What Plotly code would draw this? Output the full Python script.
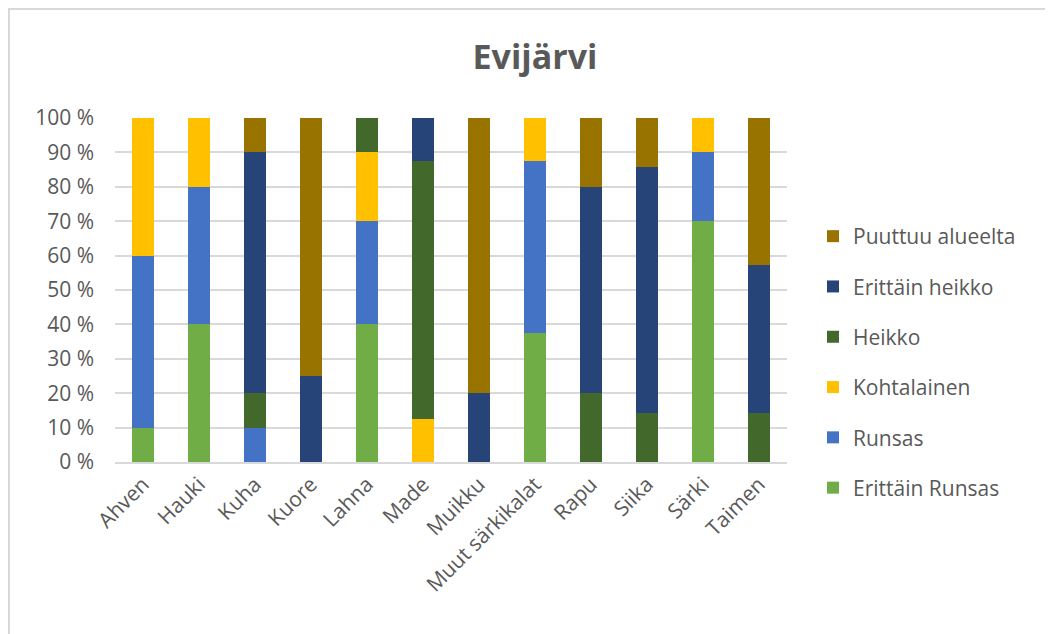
import plotly.graph_objects as go

categories = ["Ahven", "Hauki", "Kuha", "Kuore", "Lahna", "Made", "Muikku",
              "Muut särkikalat", "Rapu", "Siika", "Särki", "Taimen"]

erittain_runsas = [10, 40, 0, 0, 40, 0, 0, 37.5, 0, 0, 70, 0]
runsas = [50, 40, 10, 0, 30, 0, 0, 50, 0, 0, 20, 0]
kohtalainen = [40, 20, 0, 0, 20, 12.5, 0, 12.5, 0, 0, 10, 0]
heikko = [0, 0, 10, 0, 10, 75, 0, 0, 20, 14.3, 0, 14.3]
erittain_heikko = [0, 0, 70, 25, 0, 12.5, 20, 0, 60, 71.4, 0, 42.85]
puuttuu = [0, 0, 10, 75, 0, 0, 80, 0, 20, 14.3, 0, 42.85]

series = [
    ("Erittäin Runsas", erittain_runsas, "#70AD47"),
    ("Runsas", runsas, "#4472C4"),
    ("Kohtalainen", kohtalainen, "#FFC000"),
    ("Heikko", heikko, "#43682B"),
    ("Erittäin heikko", erittain_heikko, "#264478"),
    ("Puuttuu alueelta", puuttuu, "#997300"),
]

FONT = "Open Sans"
GRAY = "#595959"

fig = go.Figure()
n = len(series)
for i, (name, vals, color) in enumerate(series):
    fig.add_trace(go.Bar(
        x=categories, y=vals, name=name, marker_color=color,
        marker_line_width=0, legendgroup=f"g{i}", legendrank=n - i,
    ))

# page body has an 8px offset; compensate
OFF = 8
W, H = 1053, 634
L = 115 - OFF
T = 118 - OFF
R = W - (787 - OFF)
B = H - (462 - OFF)
pw, ph = W - L - R, H - T - B

fig.update_layout(
    width=W, height=H,
    barmode="stack", barnorm="percent", bargap=0.6,
    paper_bgcolor="white", plot_bgcolor="white",
    margin=dict(l=L, r=R, t=T, b=B, autoexpand=False),
    font=dict(family=FONT, color=GRAY, size=21),
    title=dict(text="<b>Evijärvi</b>", x=(535 - OFF - L) / pw, xref="paper",
               xanchor="center", y=1 - (57 - OFF) / H, yanchor="middle",
               font=dict(family=FONT, size=34, color=GRAY)),
    legend=dict(
        traceorder="grouped", tracegroupgap=20,
        x=(826 - OFF - 13 - L) / pw, xanchor="left",
        y=(462 - 362) / ph, yanchor="middle",
        font=dict(family=FONT, size=21, color=GRAY),
        bgcolor="rgba(0,0,0,0)",
    ),
    xaxis=dict(
        tickangle=-45, showgrid=False, showline=True, linecolor="#D9D9D9",
        linewidth=1.5, ticks="", tickfont=dict(size=21, color=GRAY),
    ),
    yaxis=dict(
        range=[0, 100], dtick=10, ticksuffix=" %", showgrid=True,
        gridcolor="#D9D9D9", gridwidth=1.5, zeroline=False, ticks="",
        tickfont=dict(size=21, color=GRAY), ticklabelstandoff=20,
    ),
    shapes=[dict(
        type="rect", xref="paper", yref="paper",
        x0=(1 - L) / pw, x1=(W + 20 - L) / pw,
        y0=-(H + 20 - (H - B)) / ph, y1=(H - B - 1) / ph,
        line=dict(color="#D9D9D9", width=2), fillcolor="rgba(0,0,0,0)",
        layer="below",
    )],
)

fig.write_html("out.html")
